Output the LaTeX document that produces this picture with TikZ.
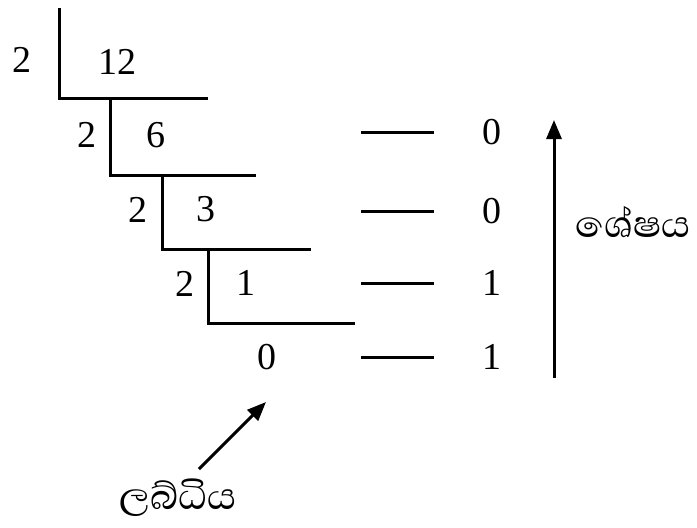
\documentclass[tikz,border=0pt]{standalone}
\usepackage{fontspec}
\setmainfont{Liberation Serif}
\newfontfamily\sinhala[Script=Sinhala]{Abhaya Libre}
\usetikzlibrary{arrows.meta}
\begin{document}
\begin{tikzpicture}[x=1pt,y=-1pt,
  num/.style={font=\fontsize{38}{44}\selectfont, inner sep=0pt},
  lbl/.style={font=\sinhala\fontsize{48}{56}\selectfont, inner sep=0pt},
  rule/.style={line width=3pt},
  arr/.style={line width=3pt, -{Triangle[length=19pt,width=15pt]}}]
\useasboundingbox (0,0) rectangle (697,528);

% repeated division brackets
\draw[rule] (59,8) -- (59,98) -- (208,98);
\draw[rule] (110,98) -- (110,175) -- (256,175);
\draw[rule] (162,175) -- (162,249) -- (311,249);
\draw[rule] (208,249) -- (208,323) -- (355,323);

% divisors and quotients
\node[num] (d1) at (22,60) {2};
\node[num] (q1) at (117,62) {12};
\node[num] (d2) at (87,135) {2};
\node[num] (q2) at (156,135) {6};
\node[num] (d3) at (138,210) {2};
\node[num] (q3) at (206,209) {3};
\node[num] (d4) at (185,284) {2};
\node[num] (q4) at (246,283) {1};
\node[num] (q5) at (267,357) {0};

% remainders
\foreach \y/\r [count=\i] in {132/0,211/0,283/1,357/1}{
  \draw[rule] (361,\y) -- (434,\y);
  \node[num] (r\i) at (492,\y) {\r};
}

% reading direction of the remainders
\coordinate (up0) at (554,378);
\coordinate (up1) at (554,120);
\draw[arr] (up0) -- (up1);
\node[lbl] (rem) at (633,222) {ශේෂය};

% pointer to the final quotient
\coordinate (qa0) at (199,469);
\coordinate (qa1) at (266,402);
\draw[arr] (qa0) -- (qa1);
\node[lbl] (quo) at (178,498) {ලබ්ධිය};
\end{tikzpicture}
\end{document}
